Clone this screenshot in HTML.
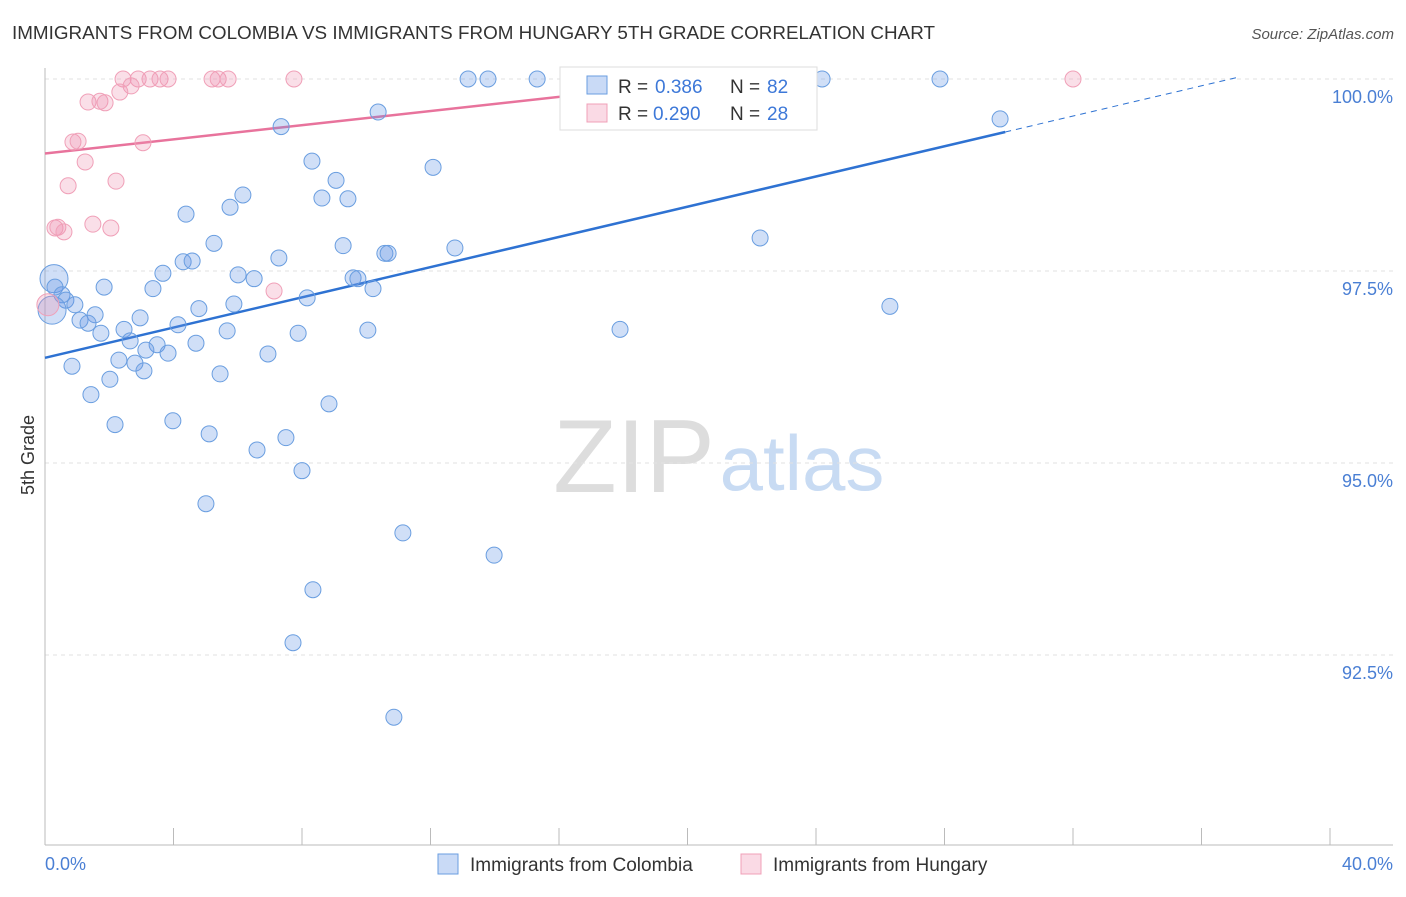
<!DOCTYPE html>
<html><head><meta charset="utf-8"><style>
body{margin:0;background:#fff;font-family:"Liberation Sans",sans-serif;}
svg text{font-family:"Liberation Sans",sans-serif;}
</style></head><body>
<svg id="chart" width="1406" height="892">
<text x="12" y="39" font-size="18" fill="#333" textLength="923" lengthAdjust="spacingAndGlyphs">IMMIGRANTS FROM COLOMBIA VS IMMIGRANTS FROM HUNGARY 5TH GRADE CORRELATION CHART</text>
<text x="1394" y="39" font-size="15" fill="#555" font-style="italic" text-anchor="end">Source: ZipAtlas.com</text>
<text x="34" y="455" font-size="18" fill="#333" text-anchor="middle" transform="rotate(-90 34 455)">5th Grade</text>
<g>
<text x="634" y="492" font-size="104" fill="#ddd" font-family="Liberation Serif,serif" text-anchor="middle">ZIP</text>
<text x="802" y="490" font-size="78" fill="#c8dbf3" text-anchor="middle">atlas</text>
</g>
<g id="grid"></g><g id="axes"></g><g id="lines"></g><g id="pts"></g>
<g>
<rect x="560" y="67" width="257" height="63" fill="#fff" stroke="#ddd"/>
<rect x="587" y="76" width="20" height="18" fill="rgba(100,150,230,0.35)" stroke="#6a9ee0"/>
<text x="618" y="93" font-size="19" fill="#333">R =</text><text x="655" y="93" font-size="19" fill="#3d78d8">0.386</text>
<text x="730" y="93" font-size="19" fill="#333">N =</text><text x="767" y="93" font-size="19" fill="#3d78d8">82</text>
<rect x="587" y="104" width="20" height="18" fill="rgba(240,150,180,0.35)" stroke="#f0a0b8"/>
<text x="618" y="120" font-size="19" fill="#333">R =</text><text x="653" y="120" font-size="19" fill="#3d78d8">0.290</text>
<text x="730" y="120" font-size="19" fill="#333">N =</text><text x="767" y="120" font-size="19" fill="#3d78d8">28</text>
</g>
<g>
<rect x="438" y="854" width="20" height="20" fill="rgba(100,150,230,0.35)" stroke="#6a9ee0"/>
<text x="470" y="871" font-size="19" fill="#333">Immigrants from Colombia</text>
<rect x="741" y="854" width="20" height="20" fill="rgba(240,150,180,0.35)" stroke="#f0a0b8"/>
<text x="773" y="871" font-size="19" fill="#333">Immigrants from Hungary</text>
</g>
</svg>
<script>
const yTicks=[100,97.5,95,92.5];
const yTickLabels=["100.0%","97.5%","95.0%","92.5%"];
const blueX=[13.17,13.79,15.32,24.19,27.86,29.73,10.37,7.35,8.31,12.08,9.06,8.62,9.43,6.16,5.76,4.39,5.26,9.28,10.58,10.68,12.76,22.26,4.30,4.58,7.28,6.01,6.51,3.67,9.59,9.74,10.21,3.36,1.84,0.28,0.31,0.53,0.65,0.93,0.22,1.56,1.09,1.34,1.74,2.46,2.96,4.14,4.79,5.88,8.16,7.88,5.67,10.05,17.90,26.30,2.65,3.49,3.14,3.83,4.70,2.30,2.80,3.08,6.94,0.84,2.02,5.45,1.43,8.84,2.18,3.98,5.11,7.50,6.60,8.00,5.01,11.14,13.98,8.34,7.72,10.86];
const blueY=[100,100,100,100,100,99.48,99.57,99.38,98.93,98.85,98.68,98.45,98.44,98.49,98.33,98.24,97.86,97.83,97.73,97.73,97.80,97.93,97.62,97.63,97.67,97.45,97.40,97.47,97.41,97.40,97.27,97.27,97.29,97.40,97.29,97.19,97.12,97.06,96.99,96.93,96.86,96.82,96.69,96.74,96.89,96.80,97.01,97.07,97.15,96.69,96.72,96.73,96.74,97.04,96.59,96.54,96.47,96.43,96.56,96.34,96.30,96.20,96.42,96.26,96.09,96.16,95.89,95.77,95.50,95.55,95.38,95.33,95.17,94.90,94.47,94.09,93.80,93.35,92.66,91.69];
const pinkX=[2.43,2.90,3.27,3.58,3.83,5.20,5.39,5.70,7.75,20.83,32.00,2.68,2.33,1.34,1.71,1.87,0.87,1.03,3.05,1.25,0.72,2.21,0.31,0.40,0.59,1.49,2.05,7.13,0.09];
const pinkY=[100,100,100,100,100,100,100,100,100,100,100,99.91,99.83,99.70,99.71,99.69,99.18,99.19,99.17,98.92,98.61,98.67,98.06,98.07,98.01,98.11,98.06,97.24,97.06];
const blueTrend=[96.37,99.31];
const pinkTrend=[99.03,99.99];
const X=v=>45+v/40*1285, Y=v=>79+(100-v)/2.5*192;
const NS="http://www.w3.org/2000/svg";
function mk(tag,attrs,parent){const e=document.createElementNS(NS,tag);for(const k in attrs)e.setAttribute(k,attrs[k]);parent.appendChild(e);return e;}
const grid=document.getElementById('grid'),axes=document.getElementById('axes'),lines=document.getElementById('lines'),pts=document.getElementById('pts');
yTicks.forEach((t,i)=>{
 const l=mk('line',{x1:45,x2:1393,y1:Y(t),y2:Y(t),stroke:'#e2e2e2','stroke-dasharray':'4,4'},grid);
 
 
 const tx=mk('text',{x:1393,y:Y(t)+24,'font-size':18,fill:'#4a7fd4','text-anchor':'end'},axes);
 tx.textContent=yTickLabels[i];
 
 
});
const ax=mk('line',{x1:45,x2:45,y1:68,y2:845,stroke:'#bbb'},axes);


const bx=mk('line',{x1:45,x2:1393,y1:845,y2:845,stroke:'#bbb'},axes);


for(let i=0;i<=10;i++){const t=mk('line',{x1:X(i*4),x2:X(i*4),y1:828,y2:845,stroke:'#bbb'},axes);
 
 }
[["0.0%",45,'start'],["40.0%",1393,'end']].forEach(a=>{const t=mk('text',{x:a[1],y:870,'font-size':18,fill:'#4a7fd4','text-anchor':a[2]},axes);t.textContent=a[0];
 
 });
function dot(x,y,r,f,s,name){const c=mk('circle',{cx:X(x),cy:Y(y),r:r,fill:f,stroke:s,'stroke-width':1},pts);
 
 }
blueX.forEach((x,i)=>dot(x,blueY[i],(i==33||i==38)?14:8,'rgba(100,150,230,0.3)','#6a9ee0','colombia-point'));
pinkX.forEach((x,i)=>dot(x,pinkY[i],i==28?11:8,'rgba(240,150,180,0.3)','#f0a0b8','hungary-point'));
const sl=(blueTrend[1]-blueTrend[0])/29.89;
const b1=mk('line',{x1:X(0),y1:Y(blueTrend[0]),x2:X(29.89),y2:Y(blueTrend[1]),stroke:'#2e72d2','stroke-width':2.5},lines);


const b2=mk('line',{x1:X(29.89),y1:Y(blueTrend[1]),x2:X(37.2),y2:Y(blueTrend[0]+sl*37.2),stroke:'#2e72d2','stroke-width':1,'stroke-dasharray':'6,5'},lines);


const p1=mk('line',{x1:X(0),y1:Y(pinkTrend[0]),x2:X(20.83),y2:Y(pinkTrend[1]),stroke:'#e8739c','stroke-width':2.5},lines);


</script>
</body></html>
